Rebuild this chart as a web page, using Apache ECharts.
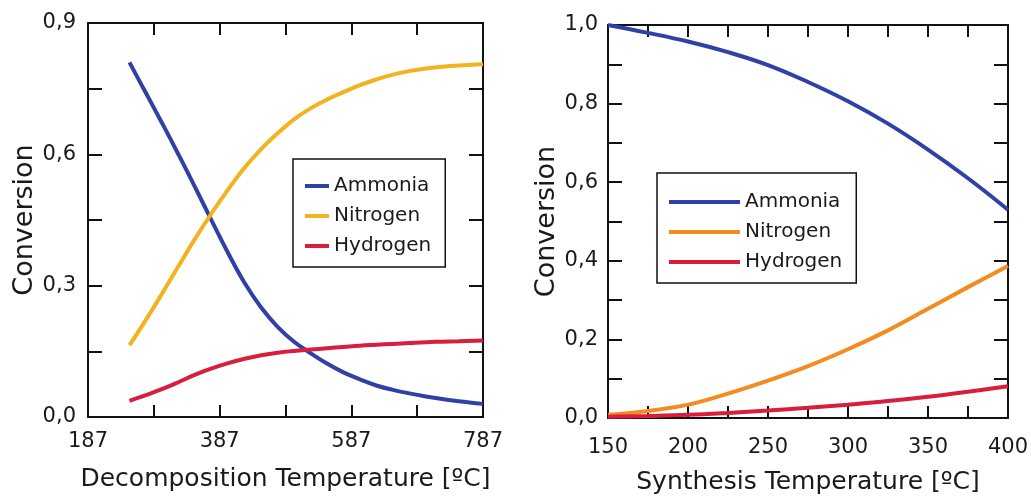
<!DOCTYPE html>
<html>
<head>
<meta charset="utf-8">
<title>Conversion</title>
<script src="https://cdn.jsdelivr.net/npm/echarts@6/dist/echarts.min.js"></script>
<style>
  html, body { margin: 0; padding: 0; background: #fff; }
  #main { width: 1031px; height: 500px; }
</style>
</head>
<body>
<div id="main"></div>
<script type="text/javascript">
// left chart: decomposition
var decompOffset = 187;
var decompTemp = [250, 275, 300, 325, 350, 375, 400, 425, 450, 475, 500, 525, 550, 575, 600, 625, 650, 675, 700, 725, 750, 787];
var decompAmmonia = [0.81, 0.740, 0.670, 0.598, 0.524, 0.448, 0.374, 0.306, 0.250, 0.206, 0.172, 0.146, 0.122, 0.102, 0.086, 0.072, 0.062, 0.054, 0.047, 0.041, 0.036, 0.030];
var decompNitrogen = [0.164, 0.222, 0.283, 0.346, 0.408, 0.466, 0.520, 0.570, 0.612, 0.648, 0.680, 0.705, 0.725, 0.742, 0.758, 0.771, 0.782, 0.790, 0.796, 0.800, 0.803, 0.806];
var decompHydrogen = [0.037, 0.050, 0.064, 0.080, 0.097, 0.111, 0.123, 0.133, 0.141, 0.147, 0.151, 0.154, 0.157, 0.160, 0.163, 0.165, 0.167, 0.169, 0.171, 0.172, 0.173, 0.175];

// right chart: synthesis
var synthTemp = [150, 175, 200, 225, 250, 275, 300, 325, 350, 375, 400];
var synthAmmonia = [1.0, 0.980, 0.958, 0.931, 0.898, 0.855, 0.806, 0.749, 0.683, 0.610, 0.530];
var synthNitrogen = [0.008, 0.018, 0.034, 0.062, 0.095, 0.132, 0.175, 0.223, 0.278, 0.333, 0.387];
var synthHydrogen = [0.003, 0.005, 0.008, 0.013, 0.019, 0.026, 0.034, 0.043, 0.054, 0.067, 0.081];

var decompXLabels = [187, 387, 587, 787];
var decompYLabels = [0, 0.3, 0.6, 0.9];
var synthXLabels = [150, 200, 250, 300, 350, 400];
var synthYLabels = [0, 0.2, 0.4, 0.6, 0.8, 1.0];

var names = ['Ammonia', 'Nitrogen', 'Hydrogen'];
var colAmmonia = '#3040a6';
var colNitrogenL = '#f3b21f';
var colNitrogenR = '#f38b1f';
var colHydrogen = '#d81e3c';
var ink = '#1a1a1a';
var font = 'DejaVu Sans';

function pairs(xs, ys, off) {
  var out = [];
  for (var i = 0; i < xs.length; i++) {
    out.push([xs[i] - off, ys[i]]);
  }
  return out;
}
function hasLabel(list, v, off) {
  for (var i = 0; i < list.length; i++) {
    if (Math.abs(list[i] - off - v) < 1e-6) return true;
  }
  return false;
}
function comma(v) {
  return v.toFixed(1).replace('.', ',');
}

function xAxisOf(grid, pos, min, max, step, show, fmt, name, gap, margin) {
  return {
    type: 'value', gridIndex: grid, position: pos, min: min, max: max, interval: step,
    name: show ? name : '', nameLocation: 'middle', nameGap: gap,
    nameTextStyle: { fontFamily: font, fontSize: 25, color: ink },
    axisLine: { show: true, onZero: false, lineStyle: { color: '#111', width: 2 } },
    axisTick: { show: true, inside: true, length: 12, lineStyle: { color: '#111', width: 2 } },
    axisLabel: { show: show, formatter: fmt, margin: margin, fontFamily: font, fontSize: 21, color: ink },
    splitLine: { show: false }
  };
}
function yAxisOf(grid, pos, min, max, step, show, fmt, gap, margin) {
  return {
    type: 'value', gridIndex: grid, position: pos, min: min, max: max, interval: step,
    name: show ? 'Conversion' : '', nameLocation: 'middle', nameGap: gap, nameRotate: 90,
    nameTextStyle: { fontFamily: font, fontSize: 27, color: ink },
    axisLine: { show: true, onZero: false, lineStyle: { color: '#111', width: 2 } },
    axisTick: { show: true, inside: true, length: 14, lineStyle: { color: '#111', width: 2 } },
    axisLabel: { show: show, formatter: fmt, margin: margin, fontFamily: font, fontSize: 21, color: ink },
    splitLine: { show: false }
  };
}

var fmtDecX = function (v) { return hasLabel(decompXLabels, v, decompOffset) ? String(v + decompOffset) : ''; };
var fmtDecY = function (v) { return hasLabel(decompYLabels, v, 0) ? comma(v) : ''; };
var fmtSynX = function (v) { return hasLabel(synthXLabels, v, 0) ? String(v) : ''; };
var fmtSynY = function (v) { return hasLabel(synthYLabels, v, 0) ? comma(v) : ''; };

function line(name, data, color, xi, yi) {
  return {
    name: name, type: 'line', xAxisIndex: xi, yAxisIndex: yi, data: data,
    showSymbol: false, smooth: 0.4,
    lineStyle: { color: color, width: 4 }, itemStyle: { color: color }
  };
}
function legendOf(left, top, iw, pad, cols) {
  return {
    orient: 'vertical', left: left, top: top, padding: pad,
    itemWidth: iw, itemHeight: 4, itemGap: 10, icon: 'rect',
    borderColor: '#111', borderWidth: 1.5, backgroundColor: '#fff',
    selectedMode: false,
    textStyle: { fontFamily: font, fontSize: 20, lineHeight: 20, color: ink },
    data: names.map(function (n, i) { return { name: n, itemStyle: { color: cols[i] } }; })
  };
}

var chart = echarts.init(document.getElementById('main'));
var option = {
  animation: false,
  backgroundColor: '#fff',
  grid: [
    { left: 88, top: 23, width: 395, height: 394 },
    { left: 608, top: 25, width: 401, height: 399 }
  ],
  xAxis: [
    xAxisOf(0, 'bottom', 0, 600, 100, true, fmtDecX, 'Decomposition Temperature [ºC]', 50, 14),
    xAxisOf(0, 'top', 0, 600, 100, false, fmtDecX, '', 0, 0),
    xAxisOf(1, 'bottom', 150, 400, 25, true, fmtSynX, 'Synthesis Temperature [ºC]', 52, 19),
    xAxisOf(1, 'top', 150, 400, 25, false, fmtSynX, '', 0, 0)
  ],
  yAxis: [
    yAxisOf(0, 'left', 0, 0.9, 0.15, true, fmtDecY, 50, 12),
    yAxisOf(0, 'right', 0, 0.9, 0.15, false, fmtDecY, 0, 0),
    yAxisOf(1, 'left', 0, 1.0, 0.1, true, fmtSynY, 47, 10),
    yAxisOf(1, 'right', 0, 1.0, 0.1, false, fmtSynY, 0, 0)
  ],
  legend: [
    legendOf(293, 159, 24, [17, 14, 11, 12], [colAmmonia, colNitrogenL, colHydrogen]),
    legendOf(657, 173, 71, [19, 14, 11, 12], [colAmmonia, colNitrogenR, colHydrogen])
  ],
  series: [
    line('Ammonia', pairs(decompTemp, decompAmmonia, decompOffset), colAmmonia, 0, 0),
    line('Nitrogen', pairs(decompTemp, decompNitrogen, decompOffset), colNitrogenL, 0, 0),
    line('Hydrogen', pairs(decompTemp, decompHydrogen, decompOffset), colHydrogen, 0, 0),
    line('Ammonia', pairs(synthTemp, synthAmmonia, 0), colAmmonia, 2, 2),
    line('Nitrogen', pairs(synthTemp, synthNitrogen, 0), colNitrogenR, 2, 2),
    line('Hydrogen', pairs(synthTemp, synthHydrogen, 0), colHydrogen, 2, 2)
  ]
};
chart.setOption(option);
</script>
</body>
</html>
